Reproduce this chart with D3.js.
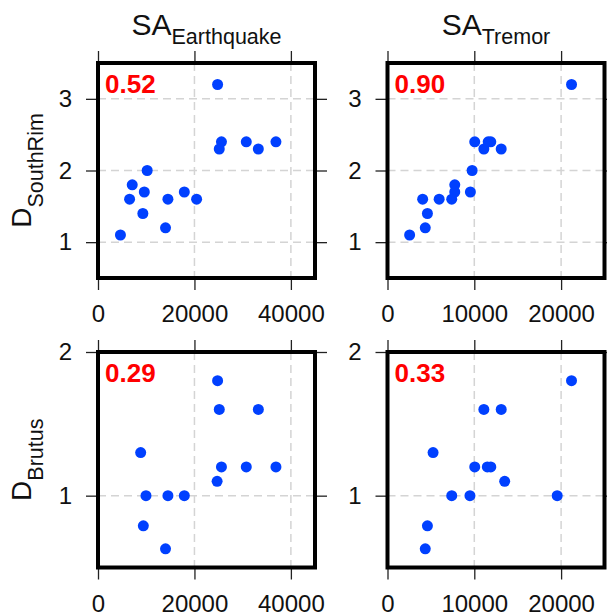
<!DOCTYPE html>
<html>
<head>
<meta charset="utf-8">
<script src="https://cdn.jsdelivr.net/npm/d3@7"></script>
<style>
  html, body { margin: 0; padding: 0; background: #ffffff; }
  svg { display: block; font-family: "Liberation Sans", Arial, sans-serif; }
</style>
</head>
<body>
<svg id="chart" width="607" height="616"></svg>
<script>
// Seismic amplitude (SA) of earthquakes and tremor against damage index D
// at two sites; each panel shows one pairing with its correlation.

// SA_Earthquake vs D_SouthRim
const eqSouthRimX = [24800, 25600, 25150, 30750, 33250, 36900, 10200, 7100, 9600, 6550, 14500, 17900, 20450, 9300, 14000, 4650];
const eqSouthRimY = [3.2, 2.4, 2.3, 2.4, 2.3, 2.4, 2.0, 1.8, 1.7, 1.6, 1.6, 1.7, 1.6, 1.4, 1.2, 1.1];

// SA_Tremor vs D_SouthRim
const trSouthRimX = [21200, 10050, 11100, 11600, 11900, 13100, 9750, 7750, 7750, 9550, 4050, 5950, 7400, 4600, 4350, 2550];
const trSouthRimY = [3.2, 2.4, 2.3, 2.4, 2.4, 2.3, 2.0, 1.8, 1.7, 1.7, 1.6, 1.6, 1.6, 1.4, 1.2, 1.1];

// SA_Earthquake vs D_Brutus
const eqBrutusX = [24800, 25150, 33250, 8850, 25600, 30750, 36900, 24700, 9950, 14500, 17900, 9400, 14000];
const eqBrutusY = [1.8, 1.6, 1.6, 1.3, 1.2, 1.2, 1.2, 1.1, 1.0, 1.0, 1.0, 0.79, 0.63];

// SA_Tremor vs D_Brutus
const trBrutusX = [21200, 11100, 13100, 5250, 10050, 11500, 11900, 13500, 7400, 9500, 19550, 4600, 4350];
const trBrutusY = [1.8, 1.6, 1.6, 1.3, 1.2, 1.2, 1.2, 1.1, 1.0, 1.0, 1.0, 0.79, 0.63];

// Correlation coefficients, panel order: top-left, top-right, bottom-left, bottom-right
const corrLabels = ["0.52", "0.90", "0.29", "0.33"];

// Column (x variable) and row (y variable) definitions
const colTitles = [["SA", "Earthquake"], ["SA", "Tremor"]];
const rowTitles = [["D", "SouthRim"], ["D", "Brutus"]];
const xDomains = [[0, 45000], [0, 25000]];
const xTicks = [[0, 20000, 40000], [0, 10000, 20000]];
const yDomains = [[0.5, 3.5], [0.5, 2]];
const yTicks = [[1, 2, 3], [1, 2]];

const panels = [
  { row: 0, col: 0, xs: eqSouthRimX, ys: eqSouthRimY },
  { row: 0, col: 1, xs: trSouthRimX, ys: trSouthRimY },
  { row: 1, col: 0, xs: eqBrutusX, ys: eqBrutusY },
  { row: 1, col: 1, xs: trBrutusX, ys: trBrutusY }
];

// Plot-region geometry
const colBox = [{ x0: 98, x1: 315 }, { x0: 387.5, x1: 604.5 }];
const rowBox = [{ y0: 63, y1: 278 }, { y0: 352, y1: 567.5 }];

const svg = d3.select("#chart");
svg.append("rect").attr("width", 607).attr("height", 616).attr("fill", "#ffffff");

const tickLen = 12;
const tickColor = "#222222";

panels.forEach((p, i) => {
  const cb = colBox[p.col], rb = rowBox[p.row];
  const x = d3.scaleLinear().domain(xDomains[p.col]).range([cb.x0, cb.x1]);
  const y = d3.scaleLinear().domain(yDomains[p.row]).range([rb.y1, rb.y0]);
  const g = svg.append("g");

  // dashed grid at interior ticks
  const xd = x.domain(), yd = y.domain();
  g.selectAll(".gx").data(xTicks[p.col].filter(t => t > xd[0] && t < xd[1]))
    .enter().append("line")
    .attr("x1", d => x(d)).attr("x2", d => x(d))
    .attr("y1", rb.y0).attr("y2", rb.y1)
    .attr("stroke", "#d4d4d4").attr("stroke-width", 1.5).attr("stroke-dasharray", "8,5");
  g.selectAll(".gy").data(yTicks[p.row].filter(t => t > yd[0] && t < yd[1]))
    .enter().append("line")
    .attr("y1", d => y(d)).attr("y2", d => y(d))
    .attr("x1", cb.x0).attr("x2", cb.x1)
    .attr("stroke", "#d4d4d4").attr("stroke-width", 1.5).attr("stroke-dasharray", "8,5");

  // axes: labelled bottom/left, bare ticks top/right
  const fmt = d3.format("d");
  const styleAxis = sel => {
    sel.select(".domain").remove();
    sel.selectAll(".tick line").attr("stroke", tickColor).attr("stroke-width", 1.3);
    sel.selectAll(".tick text").attr("fill", "#111111")
      .style("font-size", "24px").style("font-family", "'Liberation Sans', Arial, sans-serif");
  };
  g.append("g").attr("transform", `translate(0,${rb.y1})`)
    .call(d3.axisBottom(x).tickValues(xTicks[p.col]).tickFormat(fmt).tickSize(tickLen).tickPadding(15))
    .call(styleAxis);
  g.append("g").attr("transform", `translate(0,${rb.y0})`)
    .call(d3.axisTop(x).tickValues(xTicks[p.col]).tickFormat("").tickSize(tickLen))
    .call(styleAxis);
  g.append("g").attr("transform", `translate(${cb.x0},0)`)
    .call(d3.axisLeft(y).tickValues(yTicks[p.row]).tickFormat(fmt).tickSize(tickLen).tickPadding(14))
    .call(styleAxis);
  g.append("g").attr("transform", `translate(${cb.x1},0)`)
    .call(d3.axisRight(y).tickValues(yTicks[p.row]).tickFormat("").tickSize(tickLen))
    .call(styleAxis);

  // points
  g.selectAll("circle").data(p.xs.map((v, k) => [v, p.ys[k]]))
    .enter().append("circle")
    .attr("cx", d => x(d[0])).attr("cy", d => y(d[1]))
    .attr("r", 5.5).attr("fill", "#0040ff");

  // frame
  g.append("rect")
    .attr("x", cb.x0).attr("y", rb.y0)
    .attr("width", cb.x1 - cb.x0).attr("height", rb.y1 - rb.y0)
    .attr("fill", "none").attr("stroke", "#000000").attr("stroke-width", 4);

  // correlation label
  g.append("text")
    .attr("x", cb.x0 + 7).attr("y", rb.y0 + 30)
    .attr("fill", "#ff0000").attr("font-weight", "bold")
    .style("font-size", "26px")
    .text(corrLabels[i]);
});

// column titles with subscripts
colTitles.forEach((t, c) => {
  const cx = (colBox[c].x0 + colBox[c].x1) / 2;
  const txt = svg.append("text").attr("x", cx).attr("y", 35)
    .attr("text-anchor", "middle").attr("fill", "#111111");
  txt.append("tspan").style("font-size", "30px").text(t[0]);
  txt.append("tspan").style("font-size", "21.5px").attr("dy", 8.5).text(t[1]);
});

// row titles with subscripts, rotated
rowTitles.forEach((t, r) => {
  const cy = (rowBox[r].y0 + rowBox[r].y1) / 2;
  const txt = svg.append("text")
    .attr("transform", `translate(31,${cy}) rotate(-90)`)
    .attr("text-anchor", "middle").attr("fill", "#111111");
  txt.append("tspan").style("font-size", "28px").text(t[0]);
  txt.append("tspan").style("font-size", "21.5px").attr("dy", 12).text(t[1]);
});
</script>
</body>
</html>
